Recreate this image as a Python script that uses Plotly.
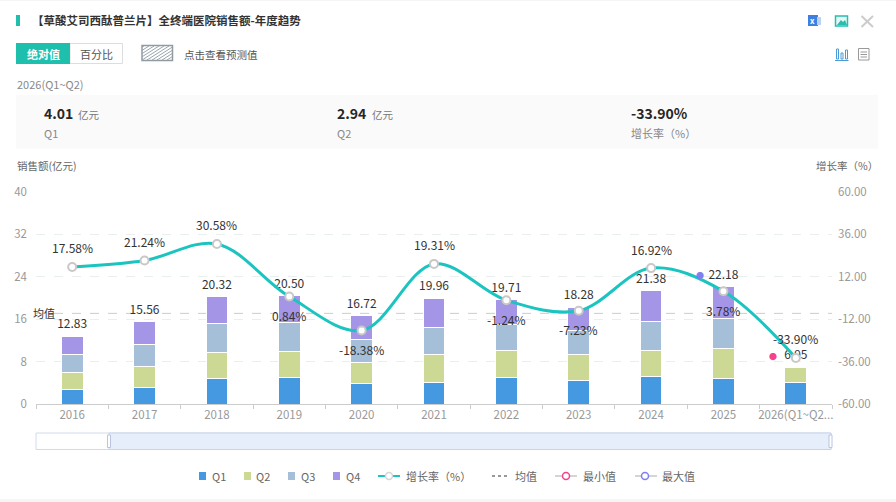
import plotly.graph_objects as go

W, H = 896, 502
FONT = "Noto Sans CJK SC"

years = ["2016", "2017", "2018", "2019", "2020", "2021", "2022", "2023", "2024", "2025", "2026(Q1~Q2)"]
year_ticks = ["2016", "2017", "2018", "2019", "2020", "2021", "2022", "2023", "2024", "2025", "2026(Q1~Q2..."]
q1 = [2.77, 3.15, 4.80, 5.05, 3.85, 4.15, 5.05, 4.45, 5.10, 4.80, 4.01]
q2 = [3.20, 3.85, 5.00, 4.95, 3.90, 5.10, 5.10, 4.80, 4.95, 5.60, 2.94]
q3 = [3.33, 4.27, 5.30, 5.30, 4.45, 5.15, 4.85, 4.55, 5.55, 5.80, None]
q4 = [3.53, 4.29, 5.22, 5.20, 4.52, 5.56, 4.71, 4.48, 5.78, 5.98, None]
totals = [12.83, 15.56, 20.32, 20.50, 16.72, 19.96, 19.71, 18.28, 21.38, 22.18, 6.95]
growth = [17.58, 21.24, 30.58, 0.84, -18.38, 19.31, -1.24, -7.23, 16.92, 3.78, -33.90]
growth_label_side = [1, 1, 1, -1, -1, 1, -1, -1, 1, -1, 1]
mean_value = 17.1

left_ticks = [0, 8, 16, 24, 32, 40]
right_ticks = [-60, -36, -12, 12, 36, 60]
right_tick_labels = ["-60.00", "-36.00", "-12.00", "12.00", "36.00", "60.00"]

title = "【草酸艾司西酞普兰片】全终端医院销售额-年度趋势"
period = "2026(Q1~Q2)"
stats = [("4.01", "亿元", "Q1", 43, 77), ("2.94", "亿元", "Q2", 336, 371), ("-33.90%", "", "增长率（%）", 630, 0)]

BAR_COLORS = ["#4599e0", "#ccd994", "#a5bfd9", "#a495e6"]
LINE_COLOR = "#1cc4c0"
TEAL = "#1fbfae"
MIN_COLOR = "#f5428d"
MAX_COLOR = "#7f7ff0"


def xp(x):
    return x / W


def yp(y):
    return 1 - y / H


fig = go.Figure()

# stacked bars
for name, vals, color in zip(["Q1", "Q2", "Q3", "Q4"], [q1, q2, q3, q4], BAR_COLORS):
    fig.add_trace(go.Bar(x=years, y=vals, name=name, marker=dict(color=color, line=dict(color="#ffffff", width=1)),
                         width=0.3, yaxis="y"))

# totals above the stacks, invisible marker only lifts the text a little
fig.add_trace(go.Scatter(x=years, y=totals, mode="markers+text", text=[f"{v:.2f}" for v in totals],
                         marker=dict(size=6, opacity=0),
                         textposition="top center", textfont=dict(size=12, color="#333333"), yaxis="y"))

fig.add_trace(go.Scatter(x=years, y=growth, name="增长率（%）", mode="lines+markers", yaxis="y2",
                         line=dict(color=LINE_COLOR, width=3, shape="spline", smoothing=1.0),
                         marker=dict(size=8, color="#ffffff", line=dict(color="#c8c8c8", width=2))))

shapes = []
annotations = []


def rect(x0, y0, x1, y1, fill="rgba(0,0,0,0)", line=None, width=1, layer="below"):
    shapes.append(dict(type="rect", xref="paper", yref="paper", x0=xp(x0), x1=xp(x1), y0=yp(y0), y1=yp(y1),
                       fillcolor=fill, line=dict(color=line or "rgba(0,0,0,0)", width=width), layer=layer))


def seg(x0, y0, x1, y1, color, width=1, dash="solid"):
    shapes.append(dict(type="line", xref="paper", yref="paper", x0=xp(x0), x1=xp(x1), y0=yp(y0), y1=yp(y1),
                       line=dict(color=color, width=width, dash=dash), layer="below"))


def ring(cx, cy, color):
    shapes.append(dict(type="circle", xref="paper", yref="paper", x0=xp(cx - 3.5), x1=xp(cx + 3.5),
                       y0=yp(cy + 3.5), y1=yp(cy - 3.5), fillcolor="#ffffff",
                       line=dict(color=color, width=1.5), layer="above"))


def label(x, y, text, size=11, color="#666666", bold=False, anchor="left"):
    if bold:
        text = f"<b>{text}</b>"
    annotations.append(dict(xref="paper", yref="paper", x=xp(x), y=yp(y), text=text, showarrow=False,
                            xanchor=anchor, yanchor="middle", font=dict(size=size, color=color), borderpad=0))


# page strips, header
rect(0, 0, W, 1, fill="#f5f5f5")
rect(0, 499, W, H, fill="#f5f5f5")
rect(16, 15, 20, 26, fill=TEAL)
label(31, 20.5, title, size=11.5, color="#333333", bold=True)

# toggle buttons
rect(70, 43.5, 122.5, 63.5, fill="#ffffff", line="#dddddd")
rect(16, 43, 70, 64, fill=TEAL)
label(43, 53.5, "绝对值", color="#ffffff", bold=True, anchor="center")
label(96.5, 53.5, "百分比", color="#555555", anchor="center")

# hatched forecast swatch
rect(142, 45.5, 172.5, 60.5, fill="#ffffff", line="#8f9aa3", width=1.5)
for i in range(-4, 6):
    x0 = 142 + i * 5
    x1 = x0 + 22
    y0, y1 = 60.0, 46.0
    if x0 < 142:
        y0 = 60.0 - (142 - x0) * 14 / 22
        x0 = 142
    if x1 > 172:
        y1 = 46.0 + (x1 - 172) * 14 / 22
        x1 = 172
    seg(x0, y0, x1, y1, "#9aa4ac", 1)
label(183, 54, "点击查看预测值", size=10.5, color="#555555")

label(16, 84, period, size=11, color="#888888")

# stat panel
rect(16, 95, 878, 148.5, fill="#fafafa")
for value, unit, cap, x, ux in stats:
    label(x, 112.5, value, size=14, color="#262626", bold=True)
    if unit:
        label(ux, 114, unit, size=10.5, color="#777777")
    label(x, 133, cap, size=11, color="#888888")

label(16, 166, "销售额(亿元)", size=10.5, color="#666666")
label(879, 166, "增长率（%）", size=10.5, color="#666666", anchor="right")

# icons top right
rect(808, 15, 818, 26, fill="#3f7fe0")
rect(817, 17, 821, 25, fill="#bcd2f2")
label(812.5, 20.5, "x", size=8, color="#ffffff", bold=True, anchor="center")
rect(835.5, 16, 847.5, 26, fill="#e9f7f4", line="#24bfae", width=1.5)
shapes.append(dict(type="path", xref="paper", yref="paper", layer="below", fillcolor="#24bfae", line=dict(width=0),
                   path=f"M {xp(837)} {yp(25)} L {xp(841)} {yp(20)} L {xp(843)} {yp(22)} L {xp(845)} {yp(20)} "
                        f"L {xp(847)} {yp(25)} Z"))
seg(861.5, 16, 873, 27, "#cccccc", 2)
seg(873, 16, 861.5, 27, "#cccccc", 2)
rect(836.5, 49, 838.5, 59, line="#4a9bd8")
rect(841, 53, 843, 59, line="#4a9bd8")
rect(845.5, 50, 847.5, 59, line="#4a9bd8")
seg(835, 60.5, 848.5, 60.5, "#4a9bd8", 1)
rect(858.5, 48.5, 869, 60, fill="#ffffff", line="#999999")
for ly in (52, 54.5, 57):
    seg(860.5, ly, 867, ly, "#999999", 1)

# mean line
shapes.append(dict(type="line", xref="paper", yref="y", x0=xp(36), x1=xp(832), y0=mean_value, y1=mean_value,
                   line=dict(color="#cccccc", width=1, dash="dash"), layer="below"))
label(32, 313, "均值", size=11, color="#333333")

# zoom bar under the chart
rect(36, 433, 831, 449.5, fill="#ffffff", line="#d2daec")
rect(109, 433, 831, 449.5, fill="#e6edfb", line="#c9d4ea")
rect(107.5, 435, 110.5, 447.5, fill="#ffffff", line="#b8c4e0")
rect(829, 435, 832, 447.5, fill="#ffffff", line="#b8c4e0")

# legend, placed by hand because plotly's swatch width is too wide for this spacing
for name, color, sx, tx in zip(["Q1", "Q2", "Q3", "Q4"], BAR_COLORS, [199, 244, 288, 333], [211, 255, 300, 345]):
    rect(sx, 472, sx + 7, 480, fill=color)
    label(tx, 476, name)
seg(378, 476, 400, 476, LINE_COLOR, 2)
ring(389, 476, "#d5d5d5")
label(405, 476, "增长率（%）")
seg(492, 476, 510, 476, "#999999", 2, dash="dot")
label(514, 476, "均值")
seg(555, 476, 577, 476, "#d5d5d5", 2)
ring(566, 476, MIN_COLOR)
label(582, 476, "最小值")
seg(635, 476, 657, 476, "#d5d5d5", 2)
ring(645, 476, MAX_COLOR)
label(661, 476, "最大值")

# growth labels sit above or below their point, years read as numbers here so go by position
for i, (g, side) in enumerate(zip(growth, growth_label_side)):
    annotations.append(dict(x=i, y=g, xref="x", yref="y2", text=f"{g:.2f}%", showarrow=False, yshift=19 * side,
                            font=dict(size=12, color="#333333")))

# min and max dots left of the total label
for i, color in [(10, MIN_COLOR), (9, MAX_COLOR)]:
    annotations.append(dict(x=i, y=totals[i], xref="x", yref="y", text="●", showarrow=False, xshift=-23, yshift=11,
                            font=dict(size=8, color=color)))

fig.update_layout(
    width=W, height=H,
    margin=dict(l=0, r=0, t=0, b=0, autoexpand=False),
    paper_bgcolor="#ffffff", plot_bgcolor="#ffffff",
    font=dict(family=FONT, size=11, color="#666666"),
    barmode="stack",
    shapes=shapes, annotations=annotations,
    xaxis=dict(domain=[xp(36), xp(832)], type="category", categoryorder="array", categoryarray=years,
               tickvals=years, ticktext=year_ticks, tickangle=0,
               range=[-0.5, 10.5], tickson="boundaries", ticks="outside", ticklen=4, tickcolor="#cccccc",
               showline=True, linecolor="#cccccc", showgrid=False,
               tickfont=dict(size=11.5, color="#999999")),
    yaxis=dict(domain=[yp(404), yp(192)], range=[0, 40], tickvals=left_ticks,
               showgrid=True, gridcolor="#e9efee", griddash="dash", gridwidth=1, zeroline=False,
               tickfont=dict(size=11.5, color="#999999"), ticks="", ticklabelstandoff=8),
    yaxis2=dict(domain=[yp(404), yp(192)], range=[-60, 60], overlaying="y", side="right", anchor="x",
                tickvals=right_ticks, ticktext=right_tick_labels, showgrid=False, zeroline=False,
                tickfont=dict(size=11.5, color="#999999"), ticks="", ticklabelstandoff=5),
    showlegend=False,
)

# drop the browser's default body margin so the page is exactly W x H
fig.write_html("out.html", config=dict(displayModeBar=False),
               post_script="document.body.style.margin='0';document.documentElement.style.overflow='hidden';")
